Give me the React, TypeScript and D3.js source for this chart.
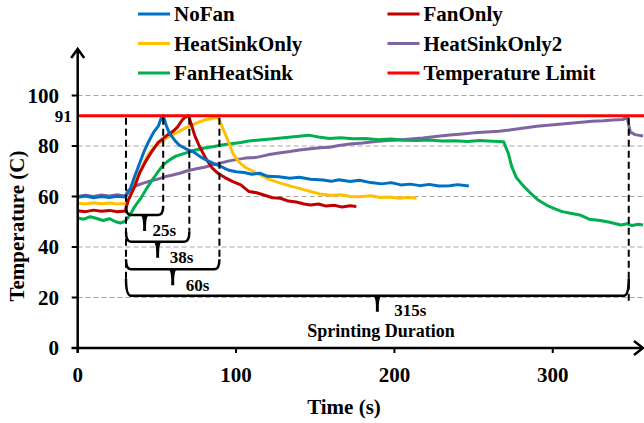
import React from 'react';
import * as d3 from 'd3';

// data (time s, temperature C)
const noFan: [number, number][] = [
  [0, 59.7], [5, 60.2], [10, 59.5], [15, 60], [20, 59.6], [25, 60.1], [30, 59.8], [33, 62.6], [36, 68], [39, 73],
  [42, 78], [45, 82], [48, 85.5], [51, 88], [53, 91.5], [54, 92], [56, 88], [58, 85], [61, 82.5], [64, 80.4],
  [68, 79], [73, 77.7], [78, 75.5], [82, 74.2], [86, 73], [90, 72], [95, 70.5], [100, 69.8], [105, 69.5],
  [110, 68.8], [115, 69.2], [120, 68], [127, 67.8], [134, 67.2], [140, 67.6], [147, 66.8], [155, 66.5],
  [160, 66], [165, 66.6], [172, 65.9], [178, 66.4], [185, 65.5], [192, 65], [198, 65.5], [204, 64.6],
  [210, 64.9], [216, 64.3], [222, 64.8], [228, 64.2], [235, 64.3], [240, 64.7], [247, 64.2],
];
const fanOnly: [number, number][] = [
  [0, 54.4], [5, 54], [10, 54.6], [15, 54.2], [20, 54.5], [25, 54], [30, 54.3], [32, 58.6], [36, 64], [39, 69.2],
  [43, 74], [47, 78], [51, 81.5], [54, 83], [57, 84.5], [60, 85.7], [63, 87.5], [66, 90.3], [68, 91.4], [70, 92],
  [72, 88], [74, 84], [77, 79.7], [81, 75], [85, 71.2], [89, 69], [93, 67.5], [98, 65.9], [103, 64.6], [108, 62],
  [113, 61.5], [118, 60.5], [123, 59.5], [128, 59.3], [133, 58.2], [138, 57.8], [143, 57], [147, 56.6],
  [152, 57], [157, 56.2], [162, 56.5], [167, 55.8], [172, 56.3], [176, 56],
];
const heatSinkOnly: [number, number][] = [
  [0, 57.3], [5, 57], [10, 57.5], [15, 57.1], [20, 57.4], [25, 57], [30, 57.2], [33, 60], [36, 64.5], [39, 69.2],
  [42, 73.5], [45, 77.2], [49, 80], [54, 82.4], [59, 84.2], [64, 85.7], [68, 87.2], [73, 88.6], [77, 89.6],
  [81, 90.4], [84, 90.8], [87, 91.2], [89, 91], [91, 88], [93, 85], [96, 80.5], [98, 77], [102, 73.5],
  [106, 71.5], [109, 70.5], [115, 68.6], [121, 66.8], [127, 65.5], [134, 64.2], [140, 63.2], [147, 62],
  [153, 61], [160, 60.5], [166, 60.7], [172, 60], [178, 59.9], [185, 60.3], [191, 59.6], [197, 59.8],
  [203, 59.3], [209, 59.6], [214, 59.3],
];
const heatSinkOnly2: [number, number][] = [
  [0, 60], [5, 60.5], [10, 60], [15, 60.6], [20, 60.2], [25, 60.7], [30, 60.2], [32, 62.5], [36, 64], [40, 65],
  [45, 66], [50, 66.8], [55, 67.8], [60, 68.5], [65, 69.3], [70, 70.3], [75, 71], [80, 71.6], [85, 72.5],
  [90, 73.2], [95, 74], [100, 74.6], [106, 75.2], [113, 75.5], [120, 76.5], [127, 77.2], [134, 77.8],
  [140, 78.4], [147, 78.9], [153, 79.3], [159, 79.5], [165, 80.2], [172, 80.8], [180, 81.2], [188, 81.8],
  [196, 82.2], [203, 82.4], [210, 82.8], [218, 83.2], [226, 83.8], [235, 84.4], [243, 84.8], [250, 85.2],
  [258, 85.5], [266, 85.8], [275, 86.5], [283, 87.2], [290, 87.8], [297, 88.2], [304, 88.6], [311, 89],
  [318, 89.4], [325, 89.8], [332, 90], [338, 90.3], [344, 90.5], [347, 91.2], [349, 85.5], [352, 84.5], [357, 84],
];
const fanHeatSink: [number, number][] = [
  [0, 51.5], [4, 51], [8, 52], [12, 51.3], [16, 50.5], [20, 51.2], [24, 50], [27, 49.5], [30, 50.2], [33, 52.7],
  [36, 56], [40, 59.5], [43, 62.6], [47, 66.5], [51, 70], [54, 72.5], [58, 74.5], [62, 76], [66, 76.8],
  [70, 77.6], [75, 78.5], [80, 79.2], [86, 79.8], [92, 80.5], [98, 81], [103, 81.4], [108, 82], [115, 82.4],
  [122, 82.8], [130, 83.3], [138, 83.8], [146, 84.3], [152, 83.6], [159, 83], [166, 83.3], [174, 82.9],
  [182, 83], [190, 82.5], [198, 82.8], [206, 82.3], [214, 82.2], [222, 82.4], [230, 82], [238, 82.1],
  [246, 81.8], [254, 82.2], [262, 81.9], [269, 81.7], [272, 77], [274, 72], [277, 67.5], [281, 64.5],
  [286, 61.3], [291, 58.5], [296, 56.6], [301, 55.2], [306, 54], [312, 53.3], [317, 52.7], [323, 51],
  [330, 50.5], [336, 49.8], [343, 48.7], [347, 49.2], [350, 48.5], [354, 49], [357, 48.7],
];
const seriesNames = ['NoFan', 'FanOnly', 'HeatSinkOnly', 'HeatSinkOnly2', 'FanHeatSink', 'Temperature Limit'];
const seriesColors = ['#0070C0', '#C00000', '#FFC000', '#8064A2', '#00B050', '#FF0000'];
const limitValue = 92;
const limitLabel = '91';
const xTicks = [0, 100, 200, 300];
const yTicks = [0, 20, 40, 60, 80, 100];
const sprintStart = 30.5;
const sprintEnds = [54, 70.5, 89.5, 348];
const sprintLabels = ['25s', '38s', '60s', '315s'];
const bracketLevels = [52.7, 42.1, 31.2, 20.7];

const FONT = '"Liberation Serif", "Times New Roman", serif';

export default function App() {
  const width = 644;
  const height = 423;
  const x = d3.scaleLinear().domain([0, 357]).range([77.7, 643]);
  const y = d3.scaleLinear().domain([0, 100]).range([348, 95.5]);
  const line = d3
    .line<[number, number]>()
    .x((d) => x(d[0]))
    .y((d) => y(d[1]));
  const drawOrder = [heatSinkOnly2, fanHeatSink, heatSinkOnly, fanOnly, noFan];
  const drawColors = [seriesColors[3], seriesColors[4], seriesColors[2], seriesColors[1], seriesColors[0]];
  const x0 = x(0);
  const y0 = y(0);
  const labelOffsets = [8, 12, 13, 17];
  const curls = [9, 10, 10, 17];

  return (
    <svg width={width} height={height} style={{ position: 'absolute', left: 0, top: 0 }} fontFamily={FONT} fontWeight="bold">
      <rect width={width} height={height} fill="#fff" />
      {/* grid */}
      {yTicks.slice(1).map((t) => (
        <line key={t} x1={x0} x2={width} y1={y(t)} y2={y(t)} stroke="#A6A6A6" strokeWidth={1} strokeDasharray="5,3" />
      ))}
      {/* series */}
      {drawOrder.map((s, i) => (
        <path key={i} d={line(s) || ''} fill="none" stroke={drawColors[i]} strokeWidth={3} strokeLinejoin="round" />
      ))}
      {/* limit */}
      <line x1={x0} x2={width} y1={y(limitValue)} y2={y(limitValue)} stroke={seriesColors[5]} strokeWidth={3} />
      <text x={71.7} y={y(limitValue) + 1} textAnchor="end" dominantBaseline="central" fontSize={17}>
        {limitLabel}
      </text>
      {/* dashed verticals */}
      <line x1={x(sprintStart)} x2={x(sprintStart)} y1={y(limitValue) + 2} y2={y(bracketLevels[3]) - 10} stroke="#000" strokeWidth={2} strokeDasharray="7,4" />
      {sprintEnds.map((e, i) => (
        <line key={i} x1={x(e)} x2={x(e)} y1={y(limitValue) + 2} y2={y(bracketLevels[i]) + (i === 3 ? 6 : -curls[i])} stroke="#000" strokeWidth={2} strokeDasharray="7,4" />
      ))}
      {/* brackets */}
      {sprintEnds.map((e, i) => {
        const xa = x(sprintStart);
        const xb = x(e);
        const yy = y(bracketLevels[i]);
        const xm = (xa + xb) / 2;
        const c = curls[i];
        const d = `M${xa},${yy - c} Q${xa},${yy} ${xa + 5},${yy} L${xb - 5},${yy} Q${xb},${yy} ${xb},${yy - c}`;
        const tip = `M${xm - 4},${yy} Q${xm - 1},${yy + 2} ${xm - 1.5},${yy + 16} L${xm + 1.5},${yy + 16} Q${xm + 1},${yy + 2} ${xm + 4},${yy} Z`;
        return (
          <g key={i}>
            <path d={d} fill="none" stroke="#000" strokeWidth={2.5} />
            <path d={tip} fill="#000" />
            <text x={xm + labelOffsets[i]} y={yy + (i === 3 ? 20 : 21.5)} fontSize={17}>
              {sprintLabels[i]}
            </text>
          </g>
        );
      })}
      <text x={381} y={337} textAnchor="middle" fontSize={18}>
        Sprinting Duration
      </text>
      {/* axes */}
      <line x1={x0} x2={x0} y1={353} y2={49} stroke="#000" strokeWidth={2.5} />
      <path d={`M${x0 - 6.5},${58} L${x0},${49} L${x0 + 6.5},${58}`} fill="none" stroke="#000" strokeWidth={2.5} />
      <line x1={71.7} x2={643} y1={y0} y2={y0} stroke="#000" strokeWidth={2.5} />
      <path d={`M${634},${y0 - 7} L${643},${y0} L${634},${y0 + 7}`} fill="none" stroke="#000" strokeWidth={2.5} />
      {yTicks.map((t) => (
        <g key={t}>
          <line x1={x0 - 6} x2={x0} y1={y(t)} y2={y(t)} stroke="#000" strokeWidth={2} />
          <text x={59} y={y(t)} textAnchor="end" dominantBaseline="central" fontSize={21}>
            {t}
          </text>
        </g>
      ))}
      {xTicks.map((t) => (
        <g key={t}>
          <line x1={x(t)} x2={x(t)} y1={y0} y2={y0 + 5} stroke="#000" strokeWidth={2} />
          <text x={x(t)} y={382} textAnchor="middle" fontSize={21}>
            {t}
          </text>
        </g>
      ))}
      <text x={344} y={414} textAnchor="middle" fontSize={21}>
        Time (s)
      </text>
      <text transform="translate(24,226) rotate(-90)" textAnchor="middle" fontSize={21}>
        Temperature (C)
      </text>
      {/* legend */}
      {seriesNames.map((n, i) => {
        const col = i % 2;
        const row = Math.floor(i / 2);
        const lx = col === 0 ? 138 : 387.5;
        const ly = 14 + row * 29.5;
        return (
          <g key={n}>
            <line x1={lx} x2={lx + 32} y1={ly} y2={ly} stroke={seriesColors[i]} strokeWidth={3} />
            <text x={lx + 36} y={ly} dominantBaseline="central" fontSize={21}>
              {n}
            </text>
          </g>
        );
      })}
    </svg>
  );
}
